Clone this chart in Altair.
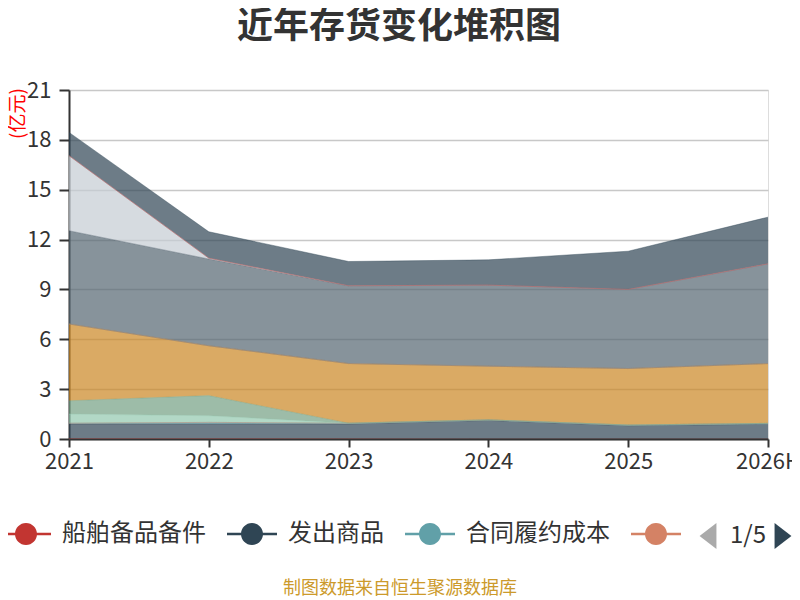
import altair as alt
import pandas as pd

FONT = "Noto Sans CJK SC"

years = ["2021", "2022", "2023", "2024", "2025", "2026H"]
names = ["船舶备品备件", "发出商品", "合同履约成本", " ", "周转材料", "委托加工物资",
         "库存商品", "低值易耗品", "半成品", "原材料", "在产品", "其他", "在途物资"]
colors = ["#c23531", "#2f4554", "#61a0a8", "#d48265", "#91c7ae", "#749f83",
          "#ca8622", "#bda29a", "#6e7074", "#546570", "#c4ccd3", "#c23531", "#2f4554"]

s0 = [0.03, 0.03, 0.02, 0.0, 0.0, 0.0]
s1 = [0.87, 0.88, 0.88, 1.12, 0.80, 0.89]
s2 = [0.05, 0.09, 0.05, 0.03, 0.04, 0.05]
s3 = [0.0, 0.0, 0.0, 0.0, 0.0, 0.0]
s4 = [0.55, 0.40, 0.0, 0.0, 0.0, 0.0]
s5 = [0.80, 1.21, 0.0, 0.0, 0.0, 0.0]
s6 = [4.62, 3.00, 3.59, 3.23, 3.40, 3.60]
s7 = [0.0, 0.0, 0.0, 0.0, 0.0, 0.0]
s8 = [0.0, 0.0, 0.0, 0.0, 0.0, 0.0]
s9 = [5.61, 5.22, 4.68, 4.88, 4.76, 6.00]
s10 = [4.52, 0.05, 0.0, 0.0, 0.0, 0.0]
s11 = [0.0, 0.0, 0.0, 0.0, 0.0, 0.0]
s12 = [1.40, 1.59, 1.46, 1.52, 2.30, 2.81]
series_values = [s0, s1, s2, s3, s4, s5, s6, s7, s8, s9, s10, s11, s12]

y_ticks = [0, 3, 6, 9, 12, 15, 18, 21]
y_domain = [0, 21]
pager = ["1/5"]
source = ["制图数据来自恒生聚源数据库"]
title_text = "近年存货变化堆积图"
unit_text = "(亿元)"

rows = []
for i, (n, vals) in enumerate(zip(names, series_values)):
    for yr, v in zip(years, vals):
        rows.append({"year": yr, "series": n, "idx": i, "value": v})
df = pd.DataFrame(rows)

LEGEND_PATH = ("M-1,-0.05H1V0.05H-1Z "
               "M0.44,0A0.44,0.44,0,1,1,-0.44,0A0.44,0.44,0,1,1,0.44,0Z")
TRI_LEFT = "M0.65,-1L-0.65,0L0.65,1Z"
TRI_RIGHT = "M-0.65,-1L0.65,0L-0.65,1Z"

x_enc = alt.X(
    "year:O",
    sort=years,
    scale=alt.Scale(type="point", padding=0, domain=years),
    axis=alt.Axis(title=None, labelAngle=0, labelFontSize=22, labelFont=FONT,
                  labelColor="#333333", labelPadding=4, tickSize=8,
                  tickColor="#333333", tickWidth=2, domainColor="#333333",
                  domainWidth=2, grid=False, zindex=1),
)

y_axis = alt.Axis(
    values=y_ticks, title=unit_text, titleColor="#ff0000", titleFontSize=19,
    titleFont=FONT, titleFontWeight="normal", titleAngle=270,
    titleAlign="center", titleBaseline="middle", titleX=-52, titleY=23,
    labelFontSize=22, labelFont=FONT, labelColor="#333333", labelPadding=8,
    tickSize=10, tickColor="#333333", tickWidth=2, domainColor="#333333",
    domainWidth=2, gridColor="#c8c8c8", gridWidth=1.5,
)

y_scale = alt.Scale(domain=y_domain, nice=False, zero=True)

base = alt.Chart(df).transform_stack(
    stack="value", groupby=["year"],
    sort=[alt.SortField("idx", order="ascending")],
    as_=["y0", "y1"],
)

area = base.mark_area(opacity=0.7).encode(
    x=x_enc,
    y=alt.Y("y1:Q", scale=y_scale, axis=y_axis),
    y2="y0:Q",
    color=alt.Color(
        "series:N",
        scale=alt.Scale(domain=names, range=colors),
        legend=alt.Legend(
            values=names[:4], orient="none", legendX=-68, legendY=419,
            direction="horizontal", title=None, symbolType=LEGEND_PATH,
            symbolSize=2500, symbolOpacity=1, symbolStrokeWidth=0,
            labelFontSize=24, labelFont=FONT, labelColor="#333333",
            labelOffset=11, columnPadding=21, labelLimit=400,
        ),
    ),
)

lines = base.mark_line(strokeWidth=1, opacity=0.4).encode(
    x=x_enc,
    y=alt.Y("y1:Q", scale=y_scale),
    stroke=alt.Stroke("series:N", scale=alt.Scale(domain=names, range=colors),
                      legend=None),
)

pager_text = alt.Chart(pd.DataFrame({"t": pager})).mark_text(
    font=FONT, fontSize=24, color="#333333", align="center", baseline="middle"
).encode(x=alt.value(679), y=alt.value(446), text="t:N")

tri_l = alt.Chart(pd.DataFrame({"t": pager})).mark_point(
    shape=TRI_LEFT, filled=True, size=676, color="#aaaaaa", opacity=1
).encode(x=alt.value(639), y=alt.value(446))

tri_r = alt.Chart(pd.DataFrame({"t": pager})).mark_point(
    shape=TRI_RIGHT, filled=True, size=676, color="#2f4554", opacity=1
).encode(x=alt.value(714), y=alt.value(446))

source_text = alt.Chart(pd.DataFrame({"t": source})).mark_text(
    font=FONT, fontSize=18, color="#cc9a2b", align="center", baseline="middle"
).encode(x=alt.value(331), y=alt.value(499), text="t:N")

chart = alt.layer(area, lines, pager_text, tri_l, tri_r, source_text).properties(
    width=699,
    height=349,
    title=alt.TitleParams(title_text, fontSize=36, font=FONT, fontWeight="bold",
                          color="#333333", anchor="middle", dx=-19.5, offset=33),
    autosize=alt.AutoSizeParams(type="none"),
    padding={"left": 61, "top": 82, "right": 24, "bottom": 161},
).configure_view(stroke=None).configure(background="#ffffff")

chart.save("out.html", embed_options={"renderer": "svg", "actions": False})
